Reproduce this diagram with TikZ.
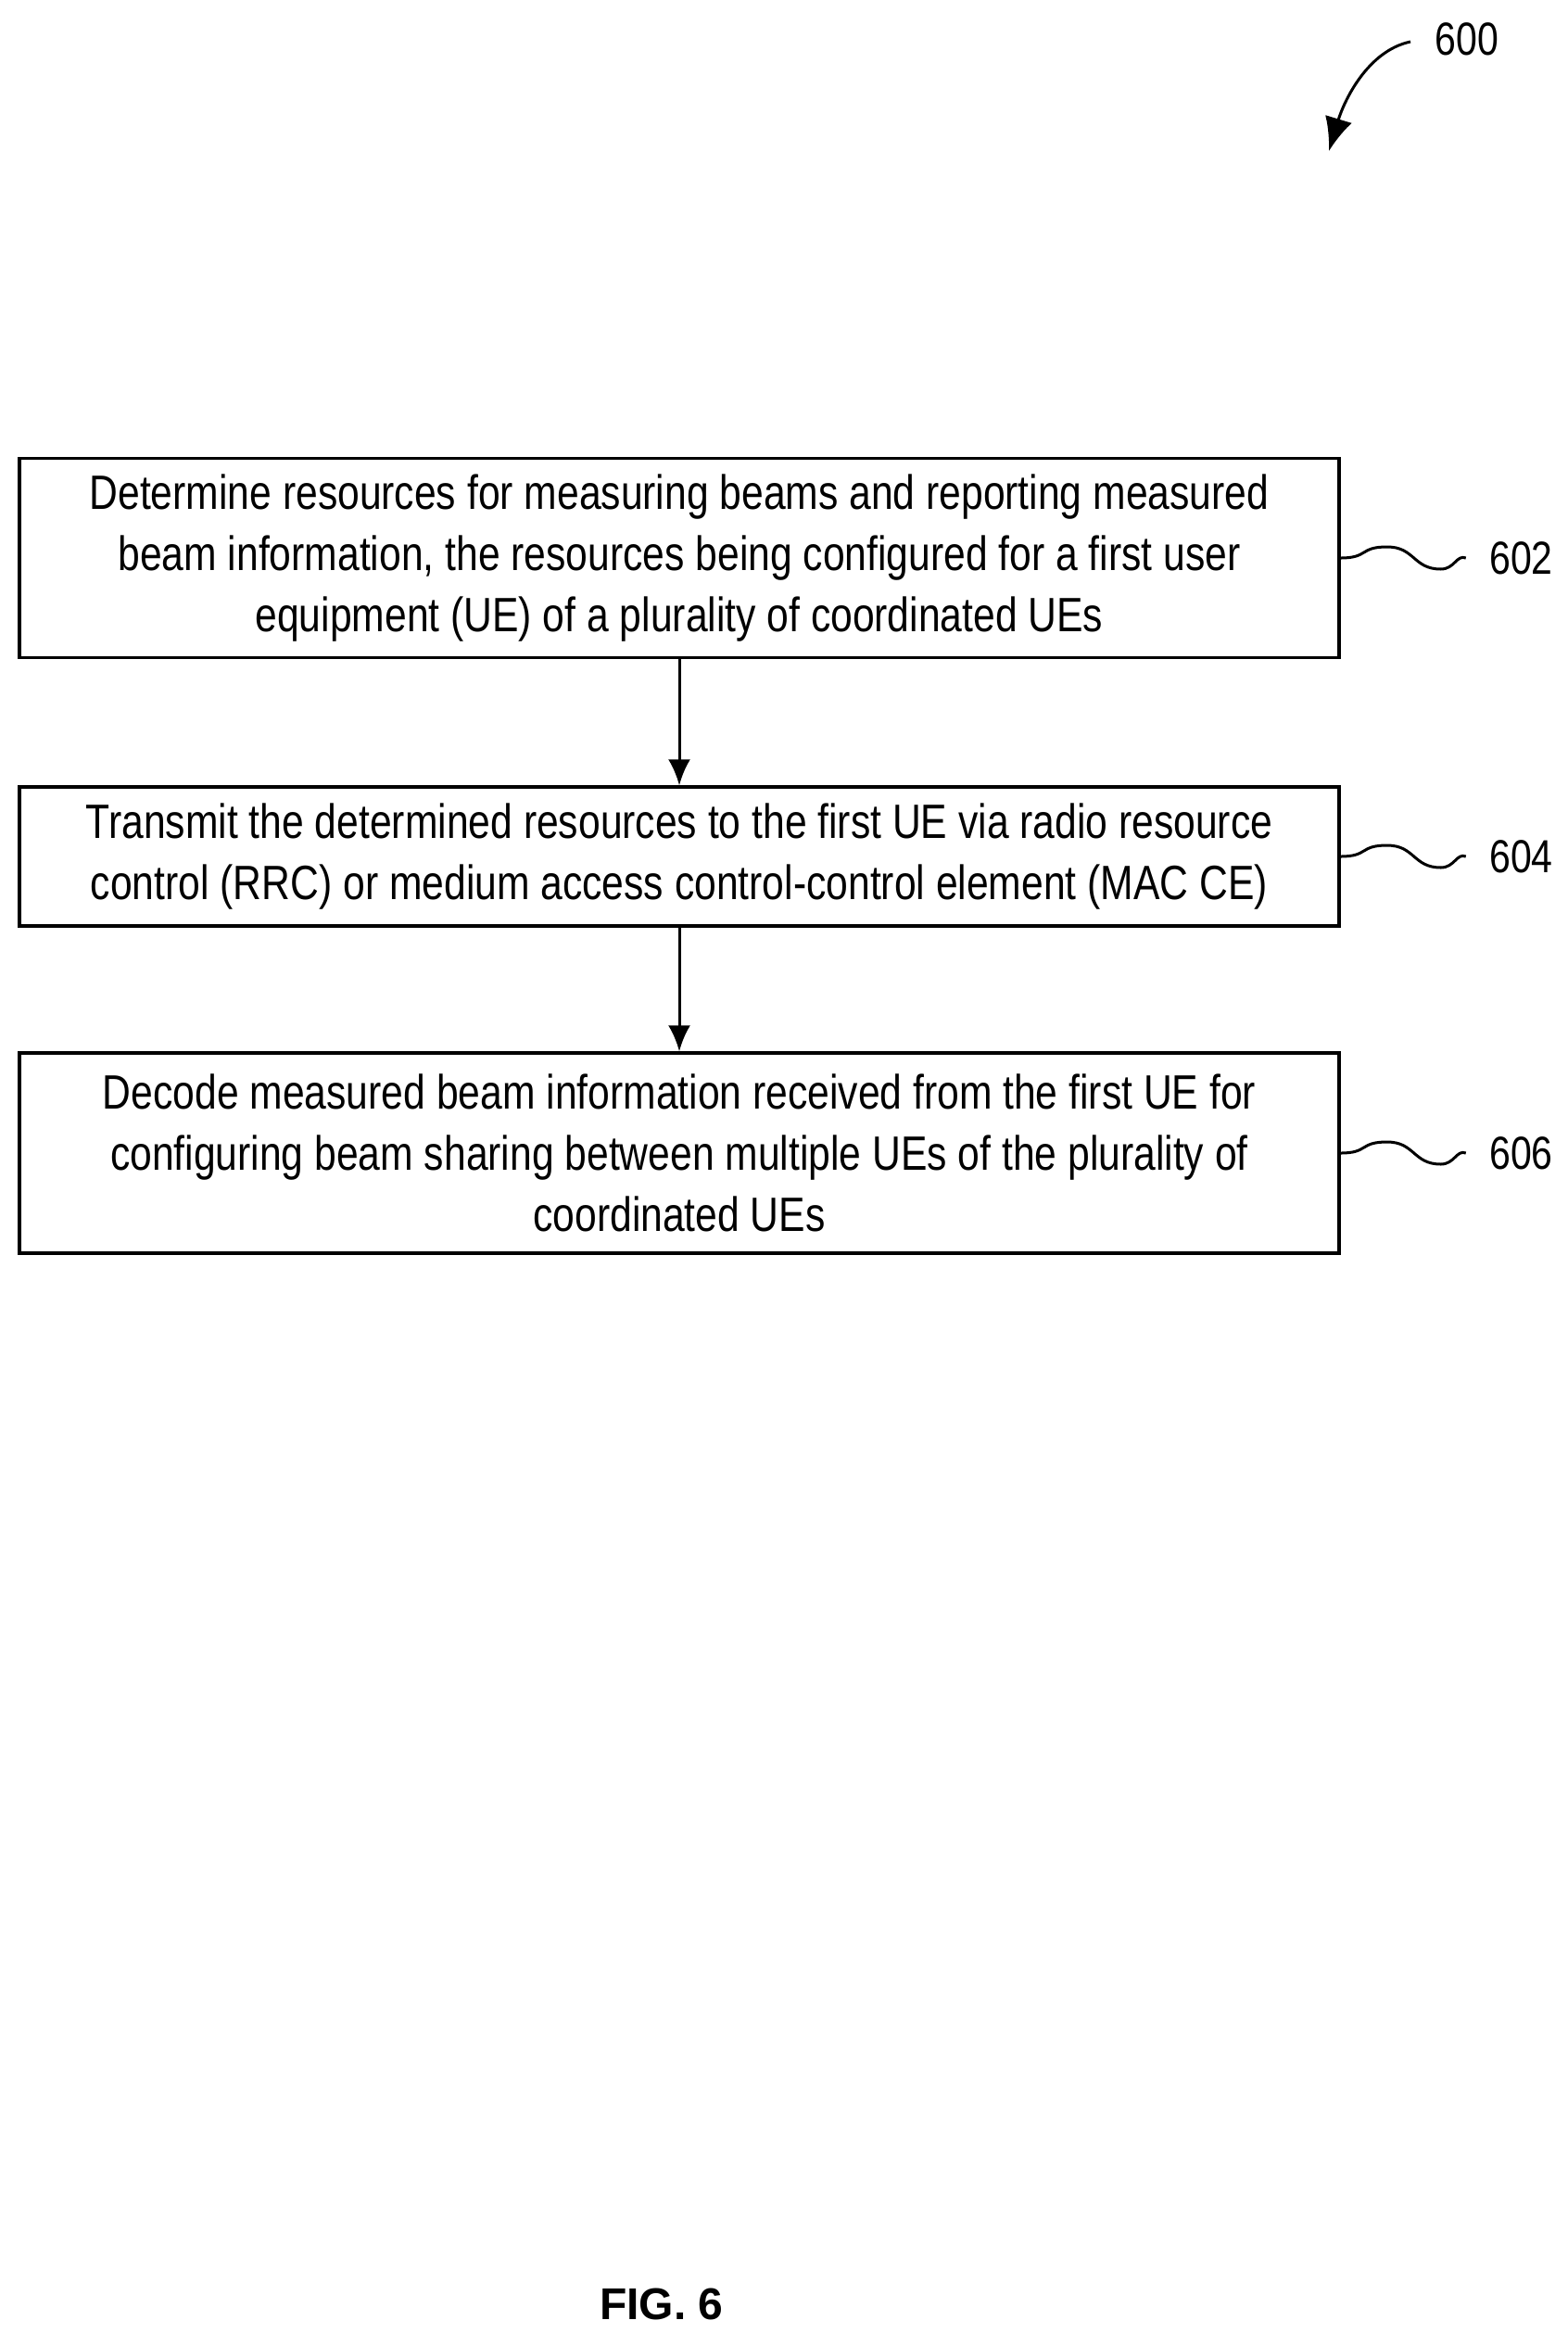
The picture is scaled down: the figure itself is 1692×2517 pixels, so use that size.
\documentclass[tikz,border=0pt]{standalone}
\usepackage{fontspec}
\setmainfont{Liberation Sans}[FakeStretch=0.82]
\newfontfamily\figfont{Liberation Sans}
\usetikzlibrary{arrows.meta}
\begin{document}
\begin{tikzpicture}[x=1pt,y=-1pt,
  box/.style={draw,line width=3.5pt,minimum width=1424pt,align=center,font=\fontsize{52}{66}\selectfont,inner sep=0pt},
  lab/.style={font=\fontsize{50}{55}\selectfont,anchor=west},
  arr/.style={line width=3pt,-{Latex[length=28pt,width=24pt]}}]
\useasboundingbox (0,0) rectangle (1692,2517);
\node[box,minimum height=215pt] (b1) at (733,602) {Determine resources for measuring beams and reporting measured\\beam information, the resources being configured for a first user\\equipment (UE) of a plurality of coordinated UEs};
\node[box,minimum height=150pt] (b2) at (733,924) {Transmit the determined resources to the first UE via radio resource\\control (RRC) or medium access control-control element (MAC CE)};
\node[box,minimum height=216pt] (b3) at (733,1244) {Decode measured beam information received from the first UE for\\configuring beam sharing between multiple UEs of the plurality of\\coordinated UEs};
\draw[arr] (b1.south) -- (b2.north);
\draw[arr] (b2.south) -- (b3.north);
\foreach \b/\t in {b1/602,b2/604,b3/606}{
  \coordinate (s\t) at ([xshift=135pt,yshift=0pt]\b.east);
  \draw[line width=3pt] (\b.east) .. controls +(30,0) and +(-30,0) .. ([xshift=50pt,yshift=12pt]\b.east) .. controls +(30,0) and +(-30,0) .. ([xshift=108pt,yshift=-12pt]\b.east) .. controls +(15,0) and +(-10,-4) .. (s\t);
  \node[lab] (l\t) at ([xshift=22pt,yshift=0pt]s\t) {\t};
}
\node[lab] (l600) at (1545,42) {600};
\coordinate (a600) at (1522,45);
\draw[line width=3pt,-{Latex[length=36pt,width=30pt]}] (a600) .. controls (1475,55) and (1450,110) .. (1434,163);
\node[font=\figfont\bfseries\fontsize{48}{58}\selectfont] (fig) at (714,2486) {FIG. 6};
\end{tikzpicture}
\end{document}
